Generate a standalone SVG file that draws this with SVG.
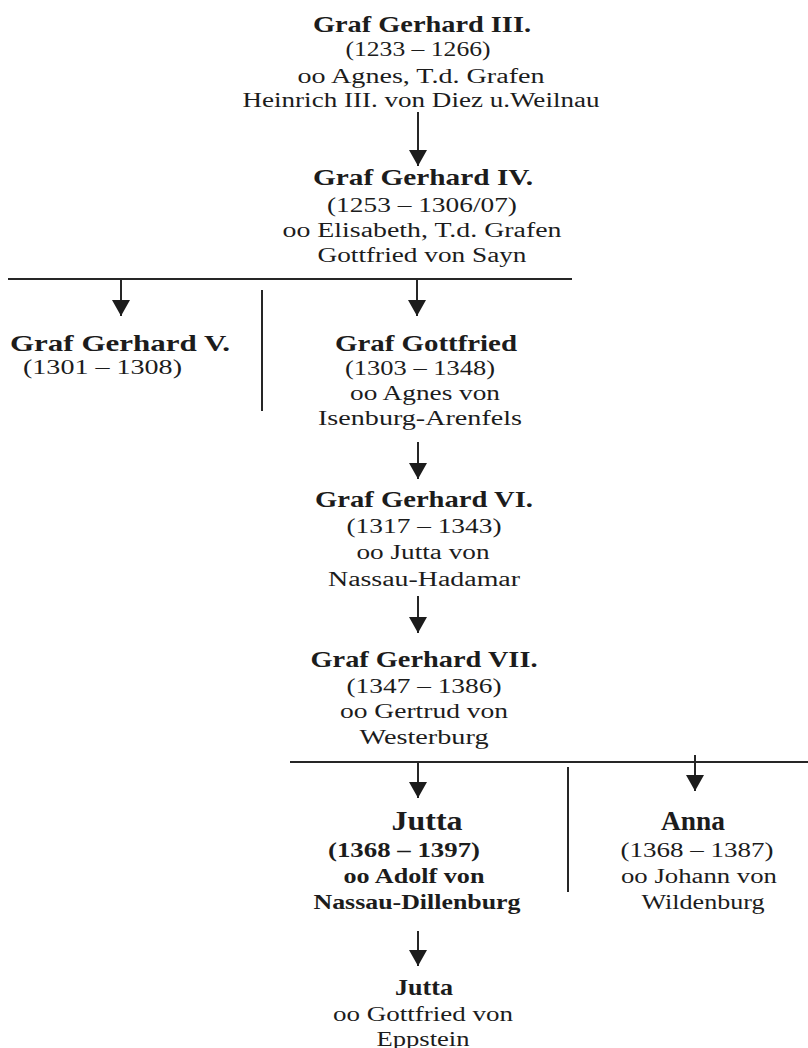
<svg xmlns="http://www.w3.org/2000/svg" width="808" height="1048" viewBox="0 0 808 1048">
<defs>
<style>
text{font-family:"Liberation Serif","Times New Roman",serif;fill:#1c1c1c;text-anchor:middle}
.t{font-size:24px;font-weight:bold}
.s{font-size:20px}
.b{font-size:20px;font-weight:bold}
.n{font-size:28px;font-weight:bold}
.l{text-anchor:start}
.c{stroke:#262626;stroke-width:2;fill:none}
</style>
<marker id="ah" viewBox="0 0 16 18" markerWidth="16" markerHeight="18" refX="16" refY="9" orient="auto" markerUnits="userSpaceOnUse">
<path d="M0,0 L16,9 L0,18 Z" fill="#1c1c1c"/>
</marker>
</defs>
<rect width="808" height="1048" fill="#ffffff"/>
<g id="connectors">
<line class="c" x1="418" y1="112" x2="418" y2="166" marker-end="url(#ah)"/>
<line class="c" x1="8" y1="279" x2="572" y2="279"/>
<line class="c" x1="121" y1="279" x2="121" y2="316" marker-end="url(#ah)"/>
<line class="c" x1="417" y1="279" x2="417" y2="316" marker-end="url(#ah)"/>
<line class="c" x1="262" y1="290" x2="262" y2="411"/>
<line class="c" x1="418" y1="442" x2="418" y2="479" marker-end="url(#ah)"/>
<line class="c" x1="418" y1="596" x2="418" y2="633" marker-end="url(#ah)"/>
<line class="c" x1="290" y1="762" x2="808" y2="762"/>
<line class="c" x1="418" y1="762" x2="418" y2="798" marker-end="url(#ah)"/>
<line class="c" x1="695" y1="755" x2="695" y2="791" marker-end="url(#ah)"/>
<line class="c" x1="568" y1="767" x2="568" y2="892"/>
<line class="c" x1="418" y1="931" x2="418" y2="966" marker-end="url(#ah)"/>
</g>
<g id="gerhard3">
<text class="t" x="422" y="32" textLength="218" lengthAdjust="spacingAndGlyphs">Graf Gerhard III.</text>
<text class="s" x="418" y="56" textLength="145" lengthAdjust="spacingAndGlyphs">(1233 – 1266)</text>
<text class="s" x="421" y="83" textLength="247" lengthAdjust="spacingAndGlyphs">oo Agnes, T.d. Grafen</text>
<text class="s" x="421" y="107" textLength="357" lengthAdjust="spacingAndGlyphs">Heinrich III. von Diez u.Weilnau</text>
</g>
<g id="gerhard4">
<text class="t" x="423" y="185" textLength="220" lengthAdjust="spacingAndGlyphs">Graf Gerhard IV.</text>
<text class="s" x="422" y="212" textLength="190" lengthAdjust="spacingAndGlyphs">(1253 – 1306/07)</text>
<text class="s" x="422" y="237" textLength="279" lengthAdjust="spacingAndGlyphs">oo Elisabeth, T.d. Grafen</text>
<text class="s" x="422" y="262" textLength="209" lengthAdjust="spacingAndGlyphs">Gottfried von Sayn</text>
</g>
<g id="gerhard5">
<text class="t l" x="10" y="351" textLength="220" lengthAdjust="spacingAndGlyphs">Graf Gerhard V.</text>
<text class="s l" x="23" y="374" textLength="159" lengthAdjust="spacingAndGlyphs">(1301 – 1308)</text>
</g>
<g id="gottfried">
<text class="t" x="426" y="351" textLength="182" lengthAdjust="spacingAndGlyphs">Graf Gottfried</text>
<text class="s" x="420" y="375" textLength="150" lengthAdjust="spacingAndGlyphs">(1303 – 1348)</text>
<text class="s" x="425" y="400" textLength="150" lengthAdjust="spacingAndGlyphs">oo Agnes von</text>
<text class="s" x="420" y="425" textLength="204" lengthAdjust="spacingAndGlyphs">Isenburg-Arenfels</text>
</g>
<g id="gerhard6">
<text class="t" x="424" y="507" textLength="218" lengthAdjust="spacingAndGlyphs">Graf Gerhard VI.</text>
<text class="s" x="424" y="533" textLength="155" lengthAdjust="spacingAndGlyphs">(1317 – 1343)</text>
<text class="s" x="423" y="559" textLength="133" lengthAdjust="spacingAndGlyphs">oo Jutta von</text>
<text class="s" x="424" y="586" textLength="192" lengthAdjust="spacingAndGlyphs">Nassau-Hadamar</text>
</g>
<g id="gerhard7">
<text class="t" x="424" y="667" textLength="227" lengthAdjust="spacingAndGlyphs">Graf Gerhard VII.</text>
<text class="s" x="424" y="693" textLength="155" lengthAdjust="spacingAndGlyphs">(1347 – 1386)</text>
<text class="s" x="424" y="718" textLength="168" lengthAdjust="spacingAndGlyphs">oo Gertrud von</text>
<text class="s" x="424" y="744" textLength="129" lengthAdjust="spacingAndGlyphs">Westerburg</text>
</g>
<g id="jutta1">
<text class="n" x="427" y="830" textLength="71" lengthAdjust="spacingAndGlyphs">Jutta</text>
<text class="b" x="404" y="857" textLength="152" lengthAdjust="spacingAndGlyphs">(1368 – 1397)</text>
<text class="b" x="414" y="883" textLength="141" lengthAdjust="spacingAndGlyphs">oo Adolf von</text>
<text class="b" x="417" y="909" textLength="207" lengthAdjust="spacingAndGlyphs">Nassau-Dillenburg</text>
</g>
<g id="anna">
<text class="n" x="693" y="830" textLength="64" lengthAdjust="spacingAndGlyphs">Anna</text>
<text class="s" x="697" y="857" textLength="153" lengthAdjust="spacingAndGlyphs">(1368 – 1387)</text>
<text class="s" x="699" y="883" textLength="156" lengthAdjust="spacingAndGlyphs">oo Johann von</text>
<text class="s" x="703" y="909" textLength="123" lengthAdjust="spacingAndGlyphs">Wildenburg</text>
</g>
<g id="jutta2">
<text class="t" x="424" y="995" textLength="58" lengthAdjust="spacingAndGlyphs">Jutta</text>
<text class="s" x="423" y="1021" textLength="180" lengthAdjust="spacingAndGlyphs">oo Gottfried von</text>
<text class="s" x="423" y="1046" textLength="93" lengthAdjust="spacingAndGlyphs">Eppstein</text>
</g>
</svg>
